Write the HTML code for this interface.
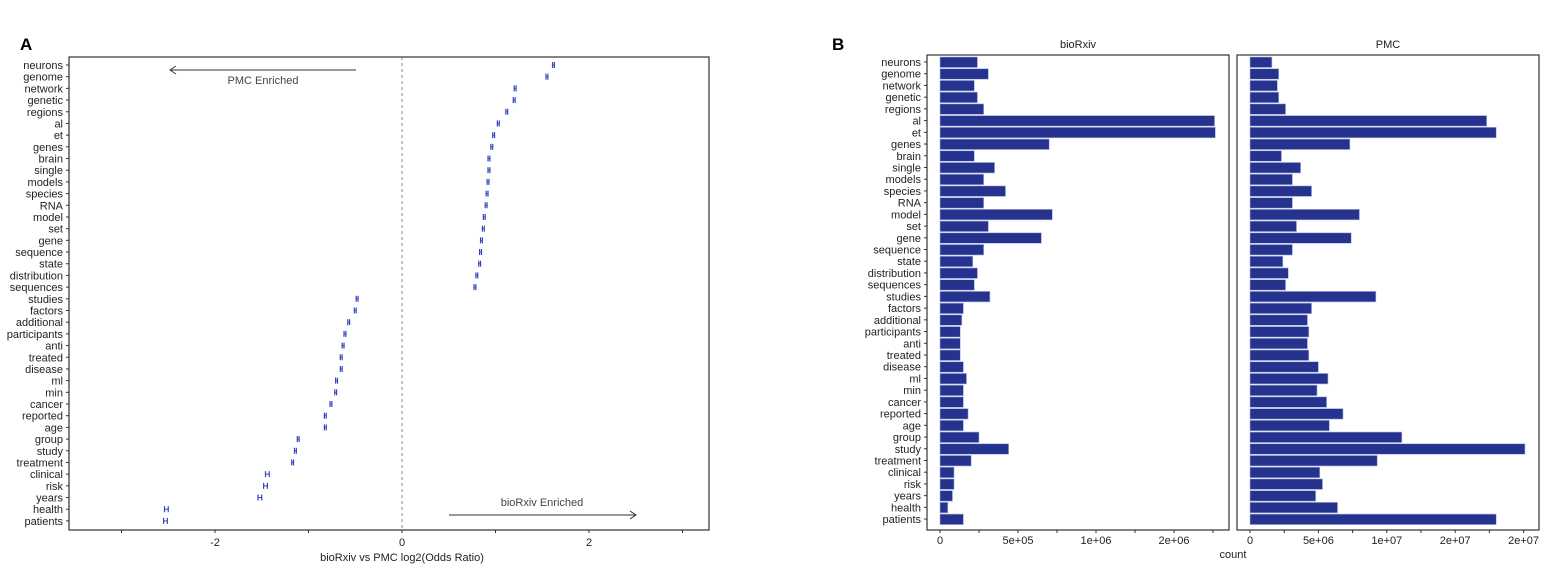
<!DOCTYPE html>
<html><head><meta charset="utf-8"><style>
body{margin:0;background:#fff;}
svg{display:block;font-family:"Liberation Sans",sans-serif;}
</style></head><body>
<svg id="c" width="1563" height="576" xmlns="http://www.w3.org/2000/svg"></svg>
<script>
const terms=["neurons","genome","network","genetic","regions","al","et","genes","brain","single","models","species","RNA","model","set","gene","sequence","state","distribution","sequences","studies","factors","additional","participants","anti","treated","disease","ml","min","cancer","reported","age","group","study","treatment","clinical","risk","years","health","patients"];
const logOR=[1.62,1.55,1.21,1.20,1.12,1.03,0.98,0.96,0.93,0.93,0.92,0.91,0.90,0.88,0.87,0.85,0.84,0.83,0.80,0.78,-0.48,-0.50,-0.57,-0.61,-0.63,-0.65,-0.65,-0.70,-0.71,-0.76,-0.82,-0.82,-1.11,-1.14,-1.17,-1.44,-1.46,-1.52,-2.52,-2.53];
const ci=[0.01,0.01,0.01,0.01,0.01,0.01,0.01,0.01,0.01,0.01,0.01,0.01,0.01,0.01,0.01,0.01,0.01,0.01,0.01,0.01,0.01,0.01,0.01,0.01,0.01,0.01,0.01,0.01,0.01,0.01,0.01,0.01,0.01,0.01,0.01,0.02,0.02,0.02,0.02,0.02];
const biorxivCounts=[0.24e6,0.31e6,0.22e6,0.24e6,0.28e6,1.76e6,1.765e6,0.70e6,0.22e6,0.35e6,0.28e6,0.42e6,0.28e6,0.72e6,0.31e6,0.65e6,0.28e6,0.21e6,0.24e6,0.22e6,0.32e6,0.15e6,0.14e6,0.13e6,0.13e6,0.13e6,0.15e6,0.17e6,0.15e6,0.15e6,0.18e6,0.15e6,0.25e6,0.44e6,0.20e6,0.09e6,0.09e6,0.08e6,0.05e6,0.15e6];
const pmcCounts=[1.6e6,2.1e6,2.0e6,2.1e6,2.6e6,17.3e6,18.0e6,7.3e6,2.3e6,3.7e6,3.1e6,4.5e6,3.1e6,8.0e6,3.4e6,7.4e6,3.1e6,2.4e6,2.8e6,2.6e6,9.2e6,4.5e6,4.2e6,4.3e6,4.2e6,4.3e6,5.0e6,5.7e6,4.9e6,5.6e6,6.8e6,5.8e6,11.1e6,20.1e6,9.3e6,5.1e6,5.3e6,4.8e6,6.4e6,18.0e6];
const aTickVals=[-3,-2,-1,0,1,2,3];
const aTickLabels=["","-2","","0","","2",""];
const bioTickVals=[0,2.5e5,5e5,7.5e5,1e6,1.25e6,1.5e6,1.75e6];
const bioTickLabels=["0","","5e+05","","1e+06","","2e+06",""];
const pmcTickVals=[0,2.5e6,5e6,7.5e6,1e7,1.25e7,1.5e7,1.75e7,2e7];
const pmcTickLabels=["0","","5e+06","","1e+07","","2e+07","","2e+07"];

const svg=document.getElementById('c');const NS="http://www.w3.org/2000/svg";
function el(t,a,p){const e=document.createElementNS(NS,t);for(const k in a)e.setAttribute(k,a[k]);(p||svg).appendChild(e);return e;}
function txt(s,a,p){const e=el('text',a,p);e.textContent=s;return e;}

// Panel A
const gA=el('g',{});


const ax=v=>402+v*93.5;
const yA=i=>65+i*11.69;
const l1=txt('A',{x:20,y:50,'font-size':17,'font-weight':'bold'},gA);


const boxA=el('rect',{x:69,y:57,width:640,height:473,fill:'none',stroke:'#333','stroke-width':1.2},gA);


const zl=el('line',{x1:ax(0),x2:ax(0),y1:57,y2:530,stroke:'#888','stroke-dasharray':'3,3'},gA);


terms.forEach((t,i)=>{
 const y=yA(i);
 el('line',{x1:66,x2:69,y1:y,y2:y,stroke:'#333'},gA);
 const lb=txt(t,{x:63,y:y+4,'font-size':11,'text-anchor':'end',fill:'#222'},gA);
 
 
 const lo=ax(logOR[i]-ci[i]),hi=ax(logOR[i]+ci[i]);
 const m=el('g',{},gA);
 
 
 el('line',{x1:lo,x2:lo,y1:y-3,y2:y+3,stroke:'#3344bb','stroke-width':1.2},m);
 el('line',{x1:hi,x2:hi,y1:y-3,y2:y+3,stroke:'#3344bb','stroke-width':1.2},m);
 el('line',{x1:lo,x2:hi,y1:y,y2:y,stroke:'#3344bb','stroke-width':1},m);
});
aTickVals.forEach((v,i)=>{
 el('line',{x1:ax(v),x2:ax(v),y1:530,y2:533,stroke:'#333'},gA);
 if(aTickLabels[i]){const t=txt(aTickLabels[i],{x:ax(v),y:546,'font-size':11,'text-anchor':'middle',fill:'#222'},gA);
 }
});
const xtA=txt('bioRxiv vs PMC log2(Odds Ratio)',{x:ax(0),y:561,'font-size':11,'text-anchor':'middle',fill:'#222'},gA);


el('line',{x1:170,x2:356,y1:70,y2:70,stroke:'#333'},gA);
el('polyline',{points:'176,66 170,70 176,74',fill:'none',stroke:'#333'},gA);
const pe=txt('PMC Enriched',{x:263,y:84,'font-size':11,'text-anchor':'middle',fill:'#444'},gA);


el('line',{x1:449,x2:636,y1:515,y2:515,stroke:'#333'},gA);
el('polyline',{points:'630,511 636,515 630,519',fill:'none',stroke:'#333'},gA);
const be=txt('bioRxiv Enriched',{x:542,y:506,'font-size':11,'text-anchor':'middle',fill:'#444'},gA);



// Panel B
const gB=el('g',{});


const l2=txt('B',{x:832,y:50,'font-size':17,'font-weight':'bold'},gB);


const yB=i=>62+i*11.72;
terms.forEach((t,i)=>{
 const y=yB(i);
 el('line',{x1:924,x2:927,y1:y,y2:y,stroke:'#333'},gB);
 const lb=txt(t,{x:921,y:y+4,'font-size':11,'text-anchor':'end',fill:'#222'},gB);
 
 
});
function facet(x0,x1,zero,pxPer,vals,ticks,labels,title,name){
 const g=el('g',{},gB);
 
 
 const st=txt(title,{x:(x0+x1)/2,y:48,'font-size':11,'text-anchor':'middle',fill:'#222'},g);
 
 
 const sx=v=>zero+v*pxPer;
 vals.forEach((v,i)=>{
  const r=el('rect',{x:sx(0),y:yB(i)-5,width:sx(v)-sx(0),height:10.5,fill:'#25338f',stroke:'#aab4e0','stroke-width':0.6},g);
  
  
 });
 const f=el('rect',{x:x0,y:55,width:x1-x0,height:475,fill:'none',stroke:'#333','stroke-width':1.2},g);
 
 
 ticks.forEach((v,i)=>{
  el('line',{x1:sx(v),x2:sx(v),y1:530,y2:533,stroke:'#333'},g);
  if(labels[i]){const t=txt(labels[i],{x:sx(v),y:544,'font-size':11,'text-anchor':'middle',fill:'#222'},g);
  }
 });
}
facet(927,1229,940,78/5e5,biorxivCounts,bioTickVals,bioTickLabels,'bioRxiv','facet-biorxiv');
facet(1237,1539,1250,68.4/5e6,pmcCounts,pmcTickVals,pmcTickLabels,'PMC','facet-pmc');
const xtB=txt('count',{x:1233,y:558,'font-size':11,'text-anchor':'middle',fill:'#222'},gB);


</script>
</body></html>
